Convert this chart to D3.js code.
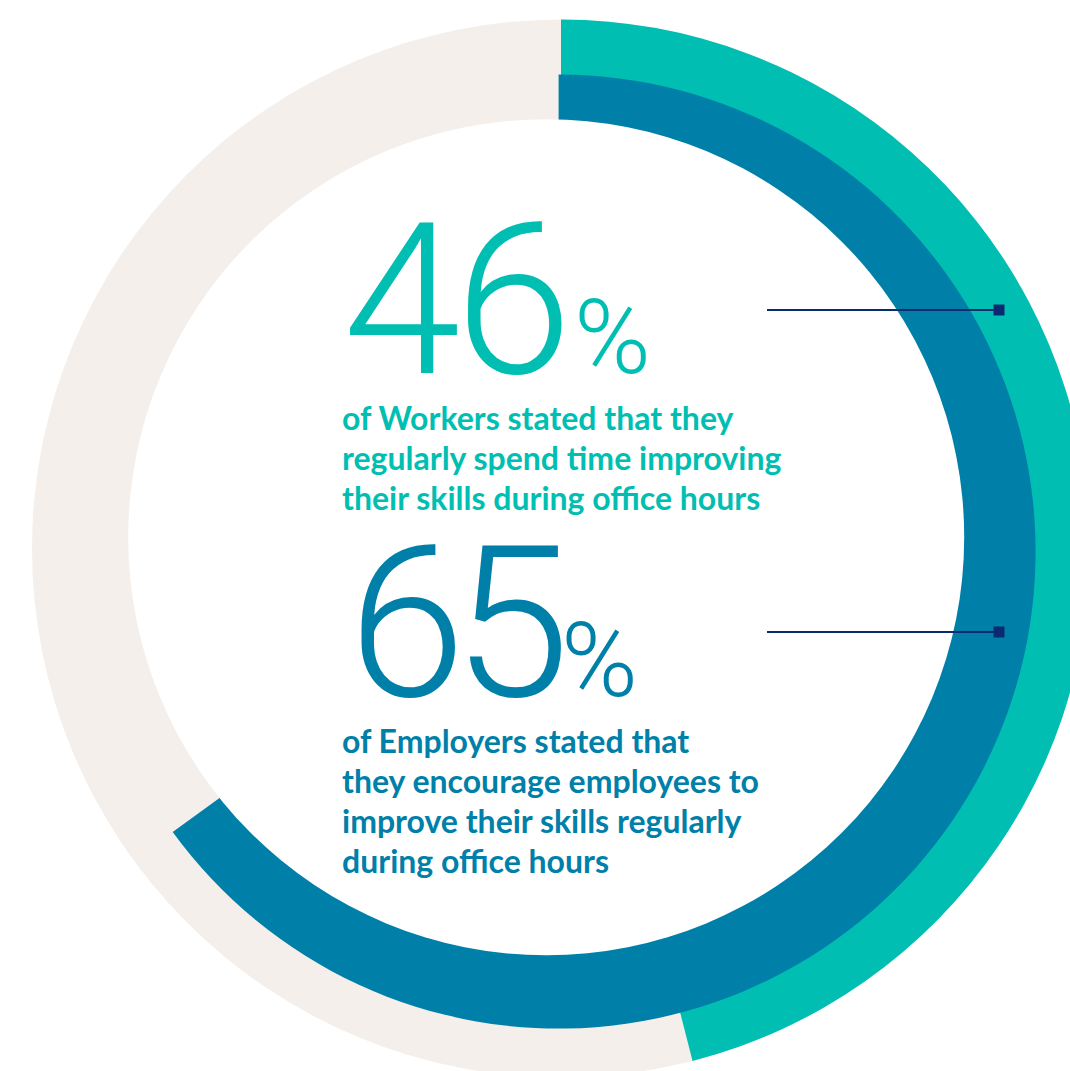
<!DOCTYPE html>
<html>
<head>
<meta charset="utf-8">
<script src="https://cdn.jsdelivr.net/npm/d3@7"></script>
<style>
  html, body { margin: 0; padding: 0; background: #ffffff; }
  svg { display: block; }
</style>
</head>
<body>
<svg id="chart" width="1070" height="1071"></svg>
<script>
// Survey results: share of respondents, in percent
const seriesNames  = ["Workers", "Employers"];
const seriesValues = [46, 65];
const seriesColors = ["#00bfb2", "#0080a8"];
const captionLines = [
  ["of Workers stated that they", "regularly spend time improving", "their skills during office hours"],
  ["of Employers stated that", "they encourage employees to", "improve their skills regularly", "during office hours"]
];

// Ring geometry (outer track, boundary between the two rings, inner hole)
const outerCircle  = { cx: 561.0, cy: 548.5, r: 529 };
const middleCircle = { cx: 558.6, cy: 551.6, r: 477 };
const innerCircle  = { cx: 546.2, cy: 537.2, r: 418 };
const trackColor = "#f4efeb";
const leaderColor = "#0a2b6f";

const svg = d3.select("#chart");
const angle = d3.scaleLinear().domain([0, 100]).range([0, 2 * Math.PI]);

// Background track
svg.append("path")
  .attr("transform", `translate(${outerCircle.cx},${outerCircle.cy})`)
  .attr("d", d3.arc()({ innerRadius: 0, outerRadius: outerCircle.r, startAngle: 0, endAngle: 2 * Math.PI }))
  .attr("fill", trackColor);

// One wedge per series: workers on the outer ring, employers on the inner ring
const wedgeCircles = [outerCircle, middleCircle];
svg.selectAll("path.wedge")
  .data(seriesValues)
  .join("path")
  .attr("class", "wedge")
  .attr("transform", (d, i) => `translate(${wedgeCircles[i].cx},${wedgeCircles[i].cy})`)
  .attr("d", (d, i) => d3.arc()({ innerRadius: 0, outerRadius: wedgeCircles[i].r, startAngle: angle(0), endAngle: angle(d) }))
  .attr("fill", (d, i) => seriesColors[i]);

// Hollow centre
svg.append("circle")
  .attr("cx", innerCircle.cx).attr("cy", innerCircle.cy).attr("r", innerCircle.r)
  .attr("fill", "#ffffff");

// Text blocks
const bigBaseline = [373, 696];
const pctX = [574, 561];
const numX = [343, 348];
const numSpacing = [-6, -13];
const captionTop = [430, 753];
const lineStep = 40;
const numberFont = "Roboto, 'Open Sans', sans-serif";
const captionFont = "Lato, 'Open Sans', sans-serif";

seriesValues.forEach((v, i) => {
  const g = svg.append("g").attr("fill", seriesColors[i]);
  g.append("text")
    .attr("x", numX[i]).attr("y", bigBaseline[i])
    .attr("font-family", numberFont)
    .attr("font-weight", 300)
    .attr("font-size", 212)
    .attr("letter-spacing", numSpacing[i])
    .text(String(v));
  g.append("text")
    .attr("x", pctX[i]).attr("y", bigBaseline[i])
    .attr("font-family", numberFont)
    .attr("font-weight", 300)
    .attr("font-size", 104)
    .text("%");
  g.append("text")
    .attr("font-family", captionFont)
    .attr("font-weight", 700)
    .attr("font-size", 32)
    .selectAll("tspan")
    .data(captionLines[i])
    .join("tspan")
    .attr("x", 342)
    .attr("y", (d, j) => captionTop[i] + j * lineStep)
    .text(d => d);
});

// Leader lines ending in square markers
const leaderY = [310, 632];
const leaderX0 = 767, leaderX1 = 999, marker = 11;
leaderY.forEach(y => {
  svg.append("line")
    .attr("x1", leaderX0).attr("x2", leaderX1)
    .attr("y1", y).attr("y2", y)
    .attr("stroke", leaderColor).attr("stroke-width", 2);
  svg.append("rect")
    .attr("x", leaderX1 - marker / 2).attr("y", y - marker / 2)
    .attr("width", marker).attr("height", marker)
    .attr("fill", leaderColor);
});
</script>
</body>
</html>
